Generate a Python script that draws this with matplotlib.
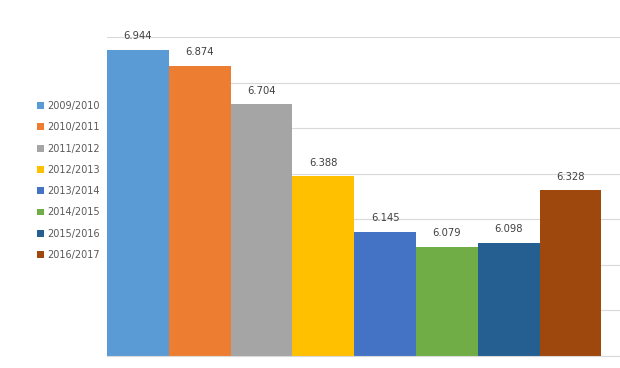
import matplotlib.pyplot as plt
from matplotlib.patches import Patch

seasons = ['2009/2010', '2010/2011', '2011/2012', '2012/2013',
           '2013/2014', '2014/2015', '2015/2016', '2016/2017']
values = [6.944, 6.874, 6.704, 6.388, 6.145, 6.079, 6.098, 6.328]
colors = ['#5B9BD5', '#ED7D31', '#A5A5A5', '#FFC000',
          '#4472C4', '#70AD47', '#255E91', '#9E480E']

fig = plt.figure(figsize=(6.2, 3.68), dpi=100)
ax = fig.add_axes([107 / 620, 12 / 368, 513 / 620, 319 / 368])

# one category, eight series side by side with no gap
xs = [i + 0.5 for i in range(len(values))]
ax.bar(xs, [v - 5.6 for v in values], width=1.0, bottom=5.6, color=colors,
       zorder=2)

for x, v in zip(xs, values):
    ax.annotate(f'{v:.3f}', (x, v), xytext=(0, 9.7), textcoords='offset points',
                ha='center', va='center', fontsize=7.2, color='#404040')

ax.set_xlim(0, 8.3)
ax.set_ylim(5.6, 7.0)
ax.set_yticks([5.6 + 0.2 * i for i in range(8)])
ax.yaxis.grid(True, color='#d9d9d9', linewidth=0.8, zorder=0)
ax.tick_params(left=False, bottom=False, labelleft=False, labelbottom=False)
for s in ['top', 'right', 'left']:
    ax.spines[s].set_visible(False)
ax.spines['bottom'].set_color('#d9d9d9')
ax.spines['bottom'].set_linewidth(0.8)

handles = [Patch(facecolor=c, label=s) for c, s in zip(colors, seasons)]
fig.legend(handles=handles, loc='upper left', bbox_to_anchor=(37 / 620, 1 - 101 / 368),
           frameon=False, fontsize=7, handlelength=0.7, handleheight=0.7,
           handletextpad=0.35, labelspacing=1.16, labelcolor='#595959',
           borderaxespad=0, borderpad=0)

fig.savefig('out.png', dpi=100)
